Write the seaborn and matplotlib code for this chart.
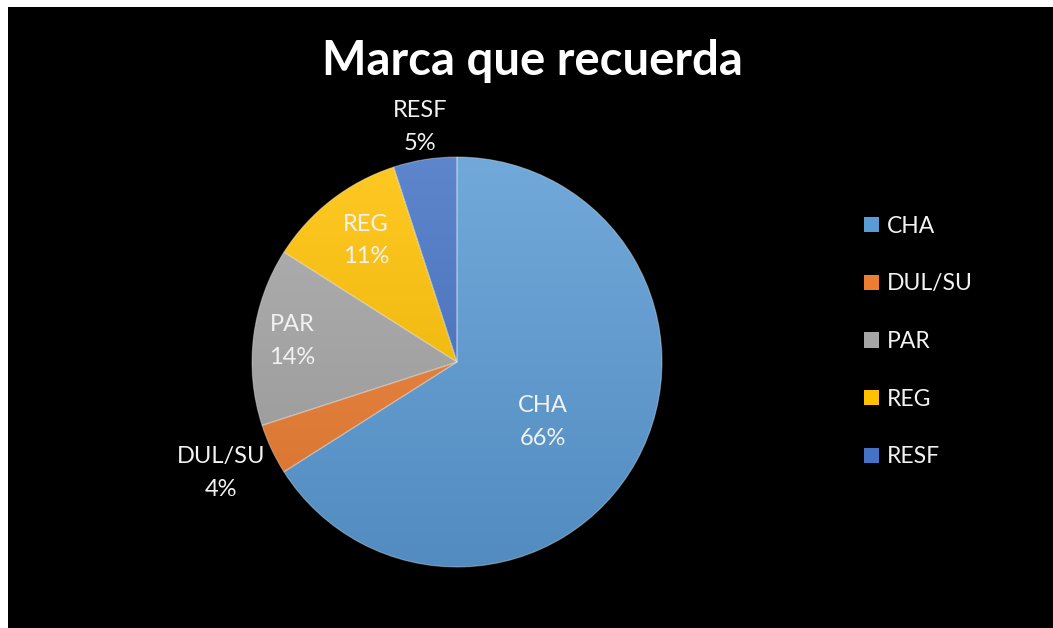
import numpy as np
import matplotlib
matplotlib.use("Agg")
import matplotlib.pyplot as plt
import seaborn as sns
from matplotlib.colors import LinearSegmentedColormap, to_rgb
from matplotlib.patches import Patch, Rectangle

categories = ["CHA", "DUL/SU", "PAR", "REG", "RESF"]
values = [66, 4, 14, 11, 5]
pct_labels = ["66%", "4%", "14%", "11%", "5%"]
colors = ["#5b9bd5", "#ed7d31", "#a5a5a5", "#ffc000", "#4472c4"]
label_dist = [0.51, 1.27, 0.81, 0.74, 1.16]
label_angle_shift = [-6, 0, 0, -1, 0]

sns.set_theme(style="white")
plt.rcParams['font.family'] = ['Lato', 'DejaVu Sans']

palette = sns.color_palette(colors)

fig = plt.figure(figsize=(10.53, 6.28), dpi=100, facecolor='white')
fig.patches.append(Rectangle((8 / 1053, 0), 1 - 8 / 1053, 1 - 7 / 628,
                             transform=fig.transFigure, facecolor='black',
                             edgecolor='none', zorder=-10))

ax = fig.add_axes([252 / 1053, 61 / 628, 410 / 1053, 410 / 628])
wedges, _ = ax.pie(values, colors=palette, startangle=90, counterclock=False,
                   radius=1, wedgeprops=dict(edgecolor=(1, 1, 1, 0.35), linewidth=0.8))


def shade(c, f):
    r = np.array(to_rgb(c))
    if f > 0:
        return tuple(r + (1 - r) * f)
    return tuple(r * (1 + f))


grad = np.linspace(1, 0, 256).reshape(-1, 1)
for w, c in zip(wedges, palette):
    cmap = LinearSegmentedColormap.from_list("g", [shade(c, -0.1), shade(c, 0.14)])
    im = ax.imshow(grad, extent=[-1, 1, -1, 1], origin='upper', cmap=cmap,
                   aspect='auto', zorder=0, interpolation='bilinear')
    im.set_clip_path(w)
    w.set_facecolor('none')
    w.set_zorder(1)

for w, cat, pct, d, sh in zip(wedges, categories, pct_labels, label_dist, label_angle_shift):
    th = np.deg2rad((w.theta1 + w.theta2) / 2 + sh)
    ax.text(d * np.cos(th), d * np.sin(th), f"{cat}\n{pct}", ha='center', va='center',
            color='#f2f2f2', fontsize=17, linespacing=1.7, zorder=3)

ax.set_xlim(-1, 1)
ax.set_ylim(-1, 1)
ax.set_aspect('equal')
ax.axis('off')

fig.text(532 / 1053, 1 - 61 / 628, "Marca que recuerda", ha='center', va='center',
         fontsize=34, fontweight='bold', color='white')

handles = [Patch(facecolor=c, edgecolor='none', label=cat) for c, cat in zip(palette, categories)]
fig.legend(handles=handles, loc='upper left', bbox_to_anchor=(843 / 1053, 1 - 195 / 628),
           frameon=False, labelcolor='#f2f2f2', fontsize=16.5, handlelength=0.65,
           handleheight=0.65, handletextpad=0.35, labelspacing=1.6)

fig.savefig("out.png", dpi=100, facecolor=fig.get_facecolor())
